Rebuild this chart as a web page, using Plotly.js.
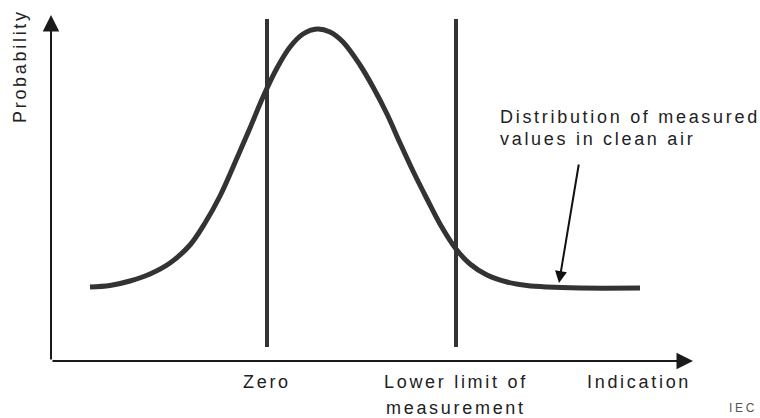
<!DOCTYPE html>
<html>
<head>
<meta charset="utf-8">
<script src="https://cdn.plot.ly/plotly-3.0.1.min.js"></script>
<style>
  html, body { margin: 0; padding: 0; background: #fff; }
  #chart { width: 760px; height: 418px; }
  text.annotation-text { letter-spacing: 2.7px; }
</style>
</head>
<body>
<div id="chart"></div>
<script>
// Indication (x) and probability (y) of the distribution of measured values in clean air
const curveX = [3.9, 5.9, 7.9, 9.9, 11.9, 13.9, 15.4, 16.9, 18.6, 19.9, 21.2, 22.6, 23.9, 25.2, 26.6, 27.9, 29.2, 30.9, 32.2, 33.6, 34.9, 36.2, 37.6, 38.9, 40.5, 41.9, 43.6, 45.6, 47.6, 49.6, 52.9, 58.9];
const curveY = [7.4, 7.55, 8.0, 8.7, 9.8, 11.6, 13.8, 16.5, 20.3, 23.3, 26.4, 29.3, 31.4, 32.7, 33.2, 32.9, 31.9, 29.6, 27.4, 24.7, 21.8, 19.0, 16.2, 13.7, 11.2, 9.7, 8.6, 7.9, 7.55, 7.4, 7.3, 7.3];

// Reference indications (vertical lines)
const markerLabels = ['Zero', 'Lower limit of', 'measurement'];
const markerX = [21.6, 40.5];
const markerSpan = [1.4, 34.2];

// Pointer to the distribution curve
const pointerTip = [50.8, 7.8];
const pointerTail = [52.8, 19.8];
const pointerText = ['Distribution of measured', 'values in clean air'];
const pointerTextPos = [44.7, 24.44, 22.24];

const axisTitles = { x: 'Indication', y: 'Probability' };

const ink = '#333333';
const textColor = '#222222';
const font = { family: 'Liberation Sans, Arial, sans-serif', size: 18, color: textColor };

const traces = [
  {
    x: curveX, y: curveY, type: 'scatter', mode: 'lines',
    line: { color: ink, width: 5, shape: 'spline', smoothing: 1 },
    hoverinfo: 'skip', showlegend: false
  }
];
markerX.forEach(function (mx) {
  traces.push({
    x: [mx, mx], y: markerSpan, type: 'scatter', mode: 'lines',
    line: { color: ink, width: 4 }, hoverinfo: 'skip', showlegend: false
  });
});

const annotations = [
  // y axis with arrow
  { xref: 'paper', yref: 'paper', x: 0, y: 1, axref: 'paper', ayref: 'paper', ax: 0, ay: 0,
    text: '', showarrow: true, arrowhead: 2, arrowsize: 1.65, arrowwidth: 2, arrowcolor: '#1a1a1a' },
  // x axis with arrow
  { xref: 'paper', yref: 'paper', x: 1, y: 0, axref: 'paper', ayref: 'paper', ax: 0, ay: 0,
    text: '', showarrow: true, arrowhead: 2, arrowsize: 1.65, arrowwidth: 2, arrowcolor: '#1a1a1a' },
  // pointer arrow
  { xref: 'x', yref: 'y', x: pointerTip[0], y: pointerTip[1], axref: 'x', ayref: 'y',
    ax: pointerTail[0], ay: pointerTail[1],
    text: '', showarrow: true, arrowhead: 2, arrowsize: 1.2, arrowwidth: 2, arrowcolor: '#111' },
  { xref: 'x', yref: 'y', x: pointerTextPos[0], y: pointerTextPos[1], xanchor: 'left', yanchor: 'middle',
    text: pointerText[0], showarrow: false, font: font },
  { xref: 'x', yref: 'y', x: pointerTextPos[0], y: pointerTextPos[2], xanchor: 'left', yanchor: 'middle',
    text: pointerText[1], showarrow: false, font: font },
  // labels under the vertical lines
  { xref: 'x', yref: 'paper', x: markerX[0], y: 0, yshift: -20.5, xanchor: 'center', yanchor: 'middle',
    text: markerLabels[0], showarrow: false, font: font },
  { xref: 'x', yref: 'paper', x: markerX[1], y: 0, yshift: -20.5, xanchor: 'center', yanchor: 'middle',
    text: markerLabels[1], showarrow: false, font: font },
  { xref: 'x', yref: 'paper', x: markerX[1], y: 0, yshift: -46.5, xanchor: 'center', yanchor: 'middle',
    text: markerLabels[2], showarrow: false, font: font },
  // axis titles
  { xref: 'paper', yref: 'paper', x: 1, y: 0, xshift: -54, yshift: -20.5, xanchor: 'center', yanchor: 'middle',
    text: axisTitles.x, showarrow: false, font: font },
  { xref: 'paper', yref: 'paper', x: 0, y: 0.8526, xshift: -31, xanchor: 'center', yanchor: 'middle',
    text: axisTitles.y, textangle: -90, showarrow: false, font: font },
  // source mark at the bottom edge
  { xref: 'paper', yref: 'paper', x: 1, y: 0, xshift: 34, yshift: -56, xanchor: 'left', yanchor: 'bottom',
    text: 'IEC', showarrow: false, font: { family: 'Liberation Sans, Arial, sans-serif', size: 12, color: '#555' } }
];

const layout = {
  width: 760, height: 418,
  margin: { l: 51, r: 67, t: 15, b: 57, pad: 0 },
  paper_bgcolor: '#ffffff', plot_bgcolor: '#ffffff',
  showlegend: false,
  xaxis: { range: [0, 64.2], showgrid: false, zeroline: false, showline: false, showticklabels: false, ticks: '', fixedrange: true },
  yaxis: { range: [0, 34.6], showgrid: false, zeroline: false, showline: false, showticklabels: false, ticks: '', fixedrange: true },
  annotations: annotations
};

Plotly.newPlot('chart', traces, layout, { displayModeBar: false, staticPlot: true });
</script>
</body>
</html>
